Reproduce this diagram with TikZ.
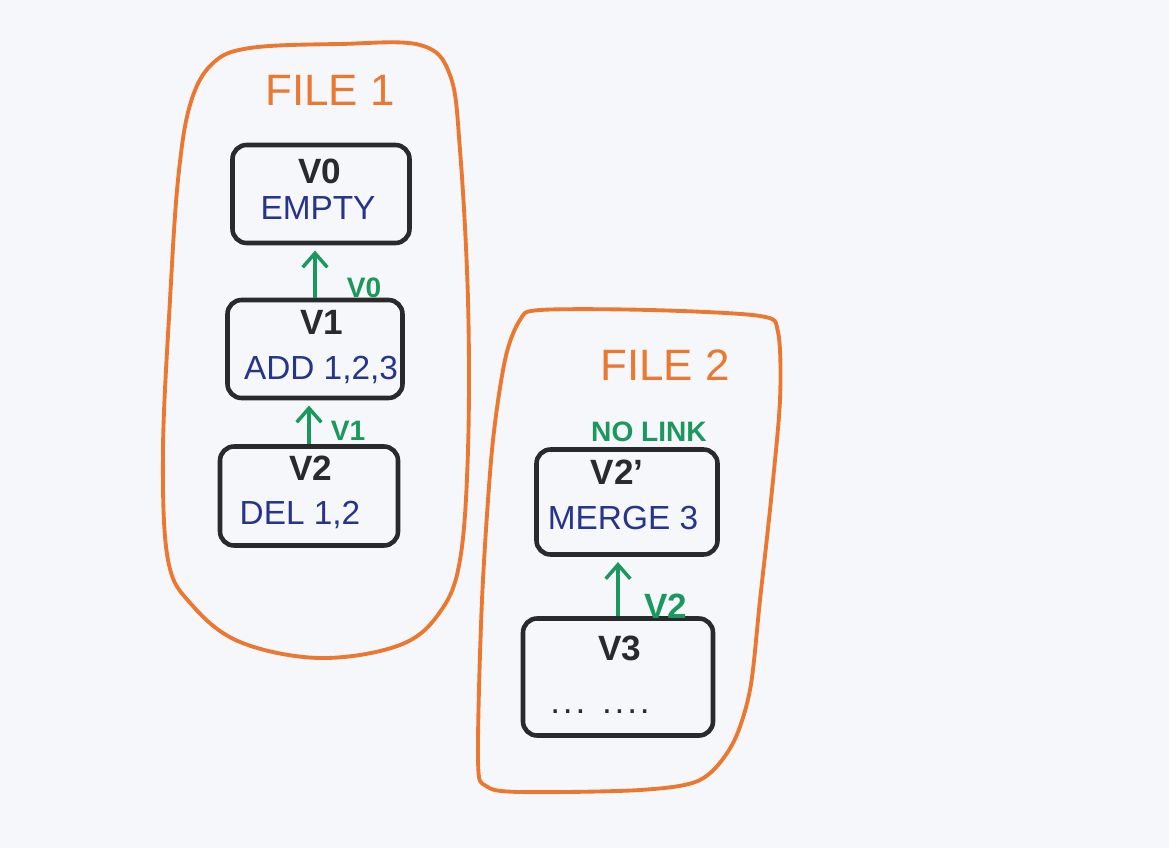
\documentclass[tikz,border=0pt]{standalone}
\usepackage{fontspec}
\setmainfont{Liberation Sans}
\usetikzlibrary{arrows.meta}
\definecolor{paper}{RGB}{246,247,250}
\definecolor{pen}{RGB}{42,42,44}
\definecolor{orangepen}{RGB}{234,120,48}
\definecolor{greenpen}{RGB}{27,152,96}
\definecolor{bluepen}{RGB}{38,52,140}
\begin{document}
\begin{tikzpicture}[x=0.02cm, y=-0.02cm,
    version/.style={draw=pen, line width=2.6pt, rounded corners=8pt, inner sep=0pt},
    vname/.style={text=pen, font=\fontsize{20}{24}\selectfont\bfseries},
    vtext/.style={text=bluepen, font=\fontsize{19}{23}\selectfont},
    link/.style={draw=greenpen, line width=2pt, -{Straight Barb[length=8pt, width=14pt]}, shorten >=3pt},
    linklbl/.style={text=greenpen, font=\fontsize{16}{19}\selectfont\bfseries},
    filebox/.style={draw=orangepen, line width=2.2pt},
    filelbl/.style={text=orangepen, font=\fontsize{25}{30}\selectfont}]
    \fill[paper] (0,0) rectangle (1169,848);
    \useasboundingbox (0,0) rectangle (1169,848);
    % Files
    \draw[filebox] plot[smooth cycle, tension=0.6] coordinates {
        (250,48) (340,44) (420,45) (450,75) (460,150) (468,300) (468,450)
        (460,560) (440,612) (400,645) (320,658) (240,642) (192,605)
        (168,560) (163,450) (170,300) (178,180) (190,105) (212,64)};
    \draw[filebox] plot[smooth cycle, tension=0.5] coordinates {
        (540,310) (650,310) (760,316) (778,332) (780,400) (771,500) (760,600)
        (750,690) (732,745) (700,780) (640,790) (520,792) (486,786)
        (478,760) (482,600) (492,450) (505,360) (520,320)};
    \node[filelbl] (file1) at (330,90) {FILE 1};
    \node[filelbl] (file2) at (665,365) {FILE 2};
    % Versions
    \foreach \name/\x/\y/\w/\h in {V0/321/194/177/98, V1/315/349/175/98,
        V2/309/496/178/99, V2p/627/502/181/105, V3/618/677/190/117} {
        \node[version, minimum width=\w*0.02cm, minimum height=\h*0.02cm]
        (\name) at (\x,\y) {};
    }
    \foreach \name/\lbl/\x/\y in {V0/V0/320/171, V1/V1/322/322, V2/V2/311/468,
        V2p/{V2'}/617/472, V3/V3/620/648} {
        \node[vname] (\name-name) at (\x,\y) {\lbl};
    }
    \foreach \name/\txt/\x/\y in {V0/EMPTY/318/208, V1/{ADD 1,2,3}/321/370,
        V2/{DEL 1,2}/300/515, V2p/{MERGE 3}/623/518} {
        \node[vtext] (\name-text) at (\x,\y) {\txt};
    }
    \node[vname, font=\fontsize{20}{24}\selectfont\addfontfeatures{LetterSpace=8}]
        (V3-text) at (600,712) {... ....};
    % Links
    \foreach \from/\to in {V1/V0, V2/V1, V3/V2p} {
        \draw[link] (\from.north) -- (\from.north |- \to.south);
    }
    \foreach \name/\lbl/\x/\y in {L0/V0/364/288, L1/V1/348/431} {
        \node[linklbl] (\name) at (\x,\y) {\lbl};
    }
    \node[linklbl, font=\fontsize{20}{24}\selectfont\bfseries] (L2) at (666,606) {V2};
    \node[linklbl] (nolink) at (649,432) {NO LINK};
\end{tikzpicture}
\end{document}
